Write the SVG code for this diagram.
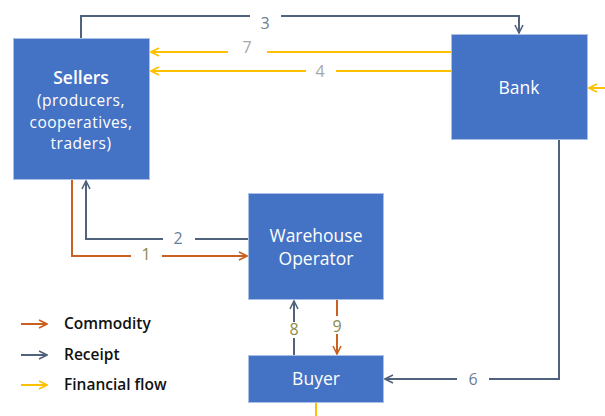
<svg xmlns="http://www.w3.org/2000/svg" width="605" height="416" viewBox="0 0 605 416">
  <defs>
    <marker id="arr-receipt" viewBox="0 0 10 10" refX="9" refY="5" markerWidth="10" markerHeight="10" markerUnits="userSpaceOnUse" orient="auto">
      <path d="M1,1 L9,5 L1,9" fill="none" stroke="#51627d" stroke-width="1.6"/>
    </marker>
    <marker id="arr-commodity" viewBox="0 0 10 10" refX="9" refY="5" markerWidth="10" markerHeight="10" markerUnits="userSpaceOnUse" orient="auto">
      <path d="M1,1 L9,5 L1,9" fill="none" stroke="#c9601f" stroke-width="1.6"/>
    </marker>
    <marker id="arr-finance" viewBox="0 0 10 10" refX="9" refY="5" markerWidth="10" markerHeight="10" markerUnits="userSpaceOnUse" orient="auto">
      <path d="M1,1 L9,5 L1,9" fill="none" stroke="#ffc000" stroke-width="1.6"/>
    </marker>
  </defs>
  <style>
    .box { fill: #4472c4; stroke: #a9bfe6; stroke-width: 1; }
    .node-text { font-family: "Open Sans", "Liberation Sans", sans-serif; fill: #ffffff; font-size: 17.5px; text-anchor: middle; }
    .title { font-weight: 600; }
    .sub { font-size: 15.5px; letter-spacing: 0.5px; }
    .receipt { fill: none; stroke: #51627d; stroke-width: 2; }
    .commodity { fill: none; stroke: #c9601f; stroke-width: 2; }
    .finance { fill: none; stroke: #ffc000; stroke-width: 2; }
    .num { font-family: "Open Sans", "Liberation Sans", sans-serif; font-size: 16px; text-anchor: middle; }
    .n-slate { fill: #6b7d96; }
    .n-grey { fill: #a6a6a6; }
    .n-olive { fill: #8a8a4a; }
    .legend { font-family: "Open Sans", "Liberation Sans", sans-serif; font-size: 15.5px; font-weight: 600; fill: #111111; }
  </style>

  <!-- connectors -->
  <g id="connectors">
    <!-- 3: Sellers to Bank (receipt) -->
    <path class="receipt" d="M81,38 V16 H250 M281,16 H519 V33" marker-end="url(#arr-receipt)"/>
    <text class="num n-slate" x="265" y="29">3</text>
    <!-- 7: Bank to Sellers (finance) -->
    <path class="finance" d="M452,52 H267 M228,52 H151" marker-end="url(#arr-finance)"/>
    <text class="num n-grey" x="247" y="53">7</text>
    <!-- 4: Bank to Sellers (finance) -->
    <path class="finance" d="M452,71 H336 M306,71 H151" marker-end="url(#arr-finance)"/>
    <text class="num n-grey" x="320" y="77">4</text>
    <!-- incoming finance at Bank -->
    <path class="finance" d="M605,88 H589" marker-end="url(#arr-finance)"/>
    <!-- 2: Warehouse to Sellers (receipt) -->
    <path class="receipt" d="M248,239 H195 M163,239 H86 V181" marker-end="url(#arr-receipt)"/>
    <text class="num n-slate" x="178" y="244">2</text>
    <!-- 1: Sellers to Warehouse (commodity) -->
    <path class="commodity" d="M72,180 V256 H131 M162,256 H247" marker-end="url(#arr-commodity)"/>
    <text class="num n-olive" x="146" y="260">1</text>
    <!-- 8: Buyer to Warehouse (receipt) -->
    <path class="receipt" d="M294,355 V338 M294,322 V301" marker-end="url(#arr-receipt)"/>
    <text class="num n-olive" x="294" y="335">8</text>
    <!-- 9: Warehouse to Buyer (commodity) -->
    <path class="commodity" d="M337,300 V316 M337,334 V354" marker-end="url(#arr-commodity)"/>
    <text class="num n-olive" x="337" y="332">9</text>
    <!-- 6: Bank to Buyer (receipt) -->
    <path class="receipt" d="M559,140 V379 H489 M457,379 H385" marker-end="url(#arr-receipt)"/>
    <text class="num n-slate" x="473" y="385">6</text>
    <!-- outgoing finance at Buyer -->
    <path class="finance" d="M316,403 V416"/>
  </g>

  <!-- nodes -->
  <g id="sellers">
    <rect class="box" x="13.5" y="38.5" width="136" height="141"/>
    <text class="node-text title" x="81" y="84">Sellers</text>
    <text class="node-text sub" x="81" y="106">(producers,</text>
    <text class="node-text sub" x="81" y="127.5">cooperatives,</text>
    <text class="node-text sub" x="81" y="149">traders)</text>
  </g>
  <g id="bank">
    <rect class="box" x="451.5" y="34.5" width="136" height="105"/>
    <text class="node-text" x="519" y="94">Bank</text>
  </g>
  <g id="warehouse">
    <rect class="box" x="248.5" y="193.5" width="135" height="106"/>
    <text class="node-text" x="316" y="242">Warehouse</text>
    <text class="node-text" x="316" y="265">Operator</text>
  </g>
  <g id="buyer">
    <rect class="box" x="248.5" y="355.5" width="135" height="47"/>
    <text class="node-text" x="316" y="385">Buyer</text>
  </g>

  <!-- legend -->
  <g id="legend">
    <path class="commodity" d="M21,324 H47" marker-end="url(#arr-commodity)"/>
    <text class="legend" x="64" y="329">Commodity</text>
    <path class="receipt" d="M21,355 H47" marker-end="url(#arr-receipt)"/>
    <text class="legend" x="64" y="360">Receipt</text>
    <path class="finance" d="M21,385 H47" marker-end="url(#arr-finance)"/>
    <text class="legend" x="64" y="390">Financial flow</text>
  </g>
</svg>
